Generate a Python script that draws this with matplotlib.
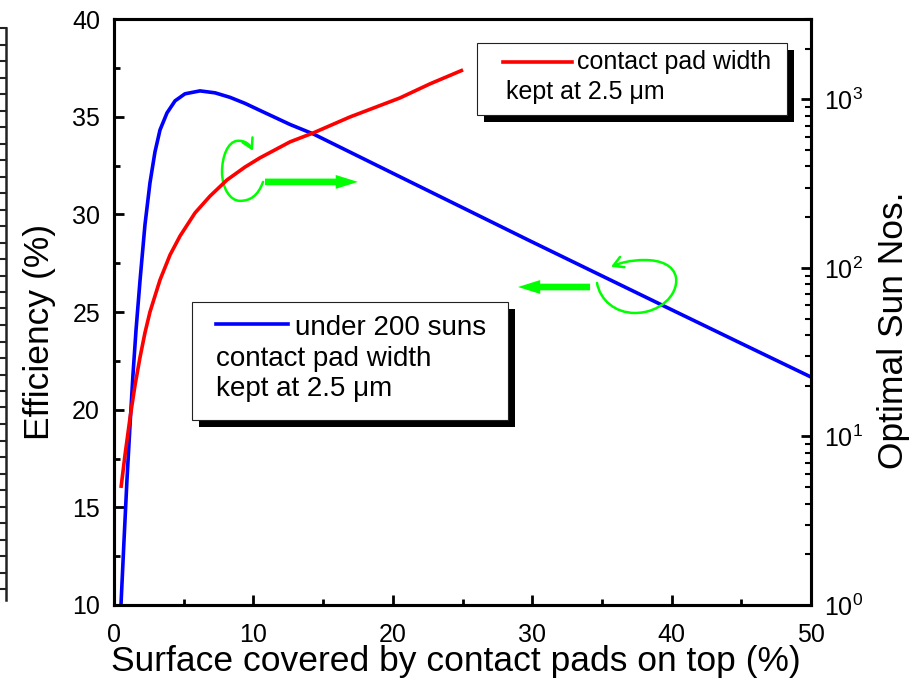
import numpy as np
import matplotlib
matplotlib.use("Agg")
import matplotlib.pyplot as plt
from matplotlib.patches import Rectangle, FancyArrowPatch, ArrowStyle
from matplotlib.path import Path
from matplotlib.lines import Line2D
from matplotlib.ticker import MultipleLocator, LogLocator, FixedLocator, FixedFormatter

plt.rcParams['font.family'] = ['Liberation Sans', 'DejaVu Sans']
plt.rcParams['mathtext.fontset'] = 'custom'
plt.rcParams['mathtext.rm'] = 'Liberation Sans'
plt.rcParams['mathtext.it'] = 'Liberation Sans:italic'

# Efficiency under 200 suns vs. surface covered by contact pads (left axis)
cover_eff = [0.5, 0.72, 0.93, 1.15, 1.36, 1.58, 1.87, 2.22, 2.58, 2.94, 3.3,
             3.8, 4.38, 5.09, 6.17, 7.25, 8.32, 9.4, 10.47, 12.63, 14.28,
             20.52, 25.04, 29.7, 35.0, 39.96, 44.91, 50.0]
efficiency = [10.0, 13.33, 16.4, 19.22, 21.78, 24.08, 26.64, 29.46, 31.61,
              33.2, 34.32, 35.19, 35.81, 36.17, 36.32, 36.22, 35.99, 35.68,
              35.32, 34.6, 34.12, 31.92, 30.33, 28.69, 26.85, 25.13, 23.42,
              21.67]

# Optimal number of suns vs. surface covered (right axis)
cover_suns = [0.5, 0.79, 1.15, 1.51, 1.87, 2.22, 2.58, 3.3, 4.02, 4.74, 5.81,
              6.89, 8.11, 9.4, 10.47, 12.63, 14.28, 16.93, 20.52, 22.67, 25.04]
optimal_suns = [4.95, 7.77, 12.9, 20.2, 29.6, 41.2, 54.8, 84.9, 119.5, 154.8,
                212.0, 267.0, 333.0, 397.0, 450.0, 560.0, 632.0, 787.0, 1021.0,
                1237.0, 1497.0]

x_ticks = [0, 10, 20, 30, 40, 50]
eff_ticks = [10, 15, 20, 25, 30, 35, 40]
sun_ticks = [1, 10, 100, 1000]
sun_tick_labels = [r'$10^{0}$', r'$10^{1}$', r'$10^{2}$', r'$10^{3}$']

W, H = 916, 684
fig = plt.figure(figsize=(W / 100, H / 100), dpi=100)
L, R, T, B = 114, 811, 19, 605
ax = fig.add_axes([L / W, 1 - B / H, (R - L) / W, (B - T) / H])
ax2 = ax.twinx()

blue = '#0000ff'
red = '#ff0000'
green = '#00ff00'

ax.plot(cover_eff, efficiency, color=blue, lw=2.6, solid_capstyle='butt',
        solid_joinstyle='round', zorder=3)
ax2.plot(cover_suns, optimal_suns, color=red, lw=2.6, solid_capstyle='butt',
         solid_joinstyle='round', zorder=3)

ax.set_xlim(0, 50)
ax.set_ylim(10, 40)
ax2.set_yscale('log')
ax2.set_ylim(1, 3000)

ax.xaxis.set_major_locator(FixedLocator(x_ticks))
ax.xaxis.set_minor_locator(MultipleLocator(5))
ax.yaxis.set_major_locator(FixedLocator(eff_ticks))
ax.yaxis.set_minor_locator(MultipleLocator(2.5))
ax2.yaxis.set_major_locator(FixedLocator(sun_ticks))
ax2.yaxis.set_major_formatter(FixedFormatter(sun_tick_labels))
ax2.yaxis.set_minor_locator(LogLocator(base=10, subs=np.arange(2, 10), numticks=20))
ax2.yaxis.set_minor_formatter(plt.NullFormatter())

for a in (ax, ax2):
    for s in a.spines.values():
        s.set_linewidth(2.2)
ax.tick_params(which='major', direction='in', length=7, width=2, labelsize=18)
ax.tick_params(which='minor', direction='in', length=4, width=2)
ax.tick_params(axis='x', which='major', pad=13)
ax.tick_params(axis='y', which='major', pad=10)
ax.tick_params(top=False, right=False, which='both')
ax2.tick_params(which='major', direction='in', length=7, width=2, labelsize=18, pad=9)
ax2.tick_params(which='minor', direction='in', length=4, width=1.5)

ax.set_xlabel('Surface covered by contact pads on top (%)', fontsize=25.5)
ax.xaxis.set_label_coords((456 - L) / (R - L), (B - 662) / (B - T))
ax.xaxis.label.set_va('center')
fig.text(40 / W, 1 - 332 / H, 'Efficiency (%)', fontsize=25.5, rotation=90,
         ha='center', va='center')
fig.text(893 / W, 1 - 330 / H, 'Optimal Sun Nos.', fontsize=25.5, rotation=90,
         ha='center', va='center')


def fx(px):
    return (px - L) / (R - L)


def fy(py):
    return (B - py) / (B - T)


def legend_box(x0, y0, x1, y1, sample, color, lines, size):
    sh = 7
    ax2.add_patch(Rectangle((fx(x0 + sh), fy(y1 + sh)), fx(x1) - fx(x0), fy(y0) - fy(y1),
                            transform=ax2.transAxes, facecolor='black', edgecolor='none',
                            zorder=10, clip_on=False))
    ax2.add_patch(Rectangle((fx(x0), fy(y1)), fx(x1) - fx(x0), fy(y0) - fy(y1),
                            transform=ax2.transAxes, facecolor='white', edgecolor='#222222',
                            lw=0.8, zorder=11, clip_on=False))
    sx0, sx1, sy = sample
    ax2.plot([fx(sx0), fx(sx1)], [fy(sy), fy(sy)], color=color, lw=2.6,
             transform=ax2.transAxes, zorder=12, clip_on=False)
    for tx, ty, s in lines:
        ax2.text(fx(tx), fy(ty), s, transform=ax2.transAxes, fontsize=size,
                 ha='left', va='baseline', zorder=12)


legend_box(192, 302, 508, 420, (216, 288, 324), blue,
           [(295, 335, 'under 200 suns'),
            (216, 366, 'contact pad width'),
            (216, 396, 'kept at 2.5 \u03bcm')], 20)
legend_box(477, 43, 787, 115, (503, 572, 62), red,
           [(577, 69, 'contact pad width'),
            (506, 99, 'kept at 2.5 \u03bcm')], 18)

# green curl arrows pointing to the axis each curve belongs to
curl_style = ArrowStyle('->', head_length=0.35, head_width=0.2)
loop1 = Path([(10.69, 31.66), (10.33, 30.94), (9.76, 30.69), (9.04, 30.69),
              (8.32, 30.69), (7.75, 31.35), (7.75, 32.17),
              (7.75, 32.99), (8.18, 33.71), (8.82, 33.76),
              (9.40, 33.81), (9.76, 33.55), (9.97, 33.25)],
             [Path.MOVETO] + [Path.CURVE4] * 12)
loop2 = Path([(34.65, 26.49), (34.86, 25.62), (35.94, 24.95), (37.37, 24.95),
              (39.17, 24.95), (40.46, 25.87), (40.32, 26.74),
              (40.17, 27.41), (39.17, 27.66), (38.09, 27.66),
              (37.02, 27.66), (36.30, 27.51), (35.65, 27.31)],
             [Path.MOVETO] + [Path.CURVE4] * 12)
for p in (loop1, loop2):
    ax.add_patch(FancyArrowPatch(path=p, arrowstyle=curl_style, mutation_scale=20,
                                 color=green, lw=1.8, zorder=5))

straight = ArrowStyle('simple', head_length=16, head_width=10, tail_width=4.8)
ax.add_patch(FancyArrowPatch((10.83, 31.66), (17.5, 31.66), arrowstyle=straight,
                             mutation_scale=1, color=green, lw=0, zorder=5,
                             shrinkA=0, shrinkB=0))
ax.add_patch(FancyArrowPatch((34.15, 26.28), (28.98, 26.28), arrowstyle=straight,
                             mutation_scale=1, color=green, lw=0, zorder=5,
                             shrinkA=0, shrinkB=0))

# edge of the neighbouring panel along the left border
ruler_x = 6 / W
ruler_top = 1 - 28 / H
ruler_bot = 1 - 600 / H
fig.add_artist(Line2D([0, ruler_x], [ruler_top, ruler_top], transform=fig.transFigure,
                      color='#222222', lw=1.5))
fig.add_artist(Line2D([ruler_x, ruler_x], [ruler_bot, ruler_top], transform=fig.transFigure,
                      color='#222222', lw=1.8))
for yy in np.arange(28 + 16.5, 600, 16.5):
    fig.add_artist(Line2D([0, ruler_x], [1 - yy / H, 1 - yy / H], transform=fig.transFigure,
                          color='#222222', lw=1.5))

fig.savefig('out.png', dpi=100)
